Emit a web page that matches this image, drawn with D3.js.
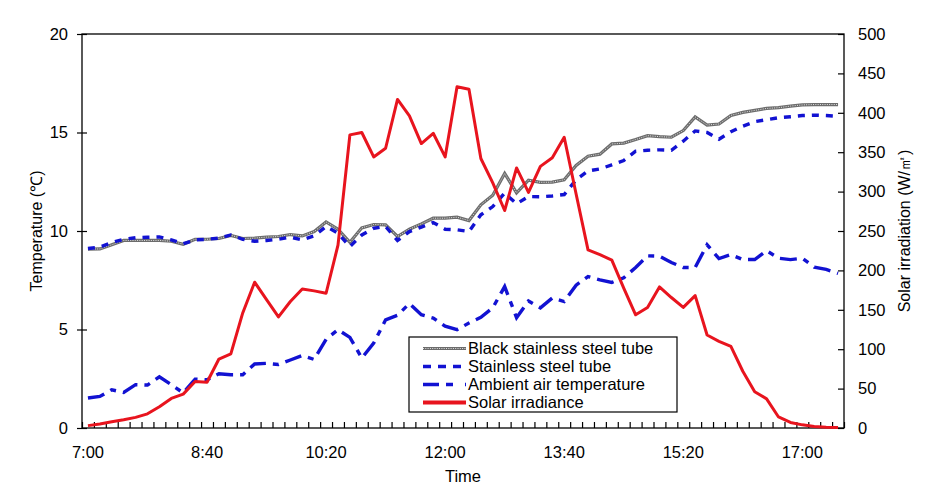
<!DOCTYPE html>
<html>
<head>
<meta charset="utf-8">
<script src="https://cdn.jsdelivr.net/npm/d3@7"></script>
<style>
  body { margin: 0; background: #fff; }
  text { font-family: "Liberation Sans", Arial, sans-serif; fill: #000; }
  .axis path { display: none; }
  .axis line { stroke: #000; stroke-width: 1.2; }
</style>
</head>
<body>
<script>
// Step 0: data (10 min steps, 7:00 to 17:30)
//= ================================
var times = ["7:00", "7:10", "7:20", "7:30", "7:40", "7:50", "8:00", "8:10", "8:20", "8:30",
  "8:40", "8:50", "9:00", "9:10", "9:20", "9:30", "9:40", "9:50", "10:00", "10:10",
  "10:20", "10:30", "10:40", "10:50", "11:00", "11:10", "11:20", "11:30", "11:40", "11:50",
  "12:00", "12:10", "12:20", "12:30", "12:40", "12:50", "13:00", "13:10", "13:20", "13:30",
  "13:40", "13:50", "14:00", "14:10", "14:20", "14:30", "14:40", "14:50", "15:00", "15:10",
  "15:20", "15:30", "15:40", "15:50", "16:00", "16:10", "16:20", "16:30", "16:40", "16:50",
  "17:00", "17:10", "17:20", "17:30"];

var timeLabels = ["7:00", "8:40", "10:20", "12:00", "13:40", "15:20", "17:00"];

var blackTube = [9.08, 9.09, 9.3, 9.52, 9.52, 9.52, 9.52, 9.48, 9.33, 9.58,
  9.58, 9.62, 9.78, 9.62, 9.64, 9.69, 9.72, 9.82, 9.75, 9.97,
  10.46, 10.09, 9.43, 10.16, 10.33, 10.31, 9.72, 10.09, 10.36, 10.65,
  10.65, 10.7, 10.53, 11.33, 11.82, 12.92, 11.94, 12.58, 12.47, 12.48,
  12.6, 13.33, 13.8, 13.9, 14.42, 14.46, 14.64, 14.84, 14.79, 14.76,
  15.1, 15.79, 15.38, 15.43, 15.87, 16.02, 16.12, 16.22, 16.26, 16.34,
  16.4, 16.42, 16.42, 16.42];

var stainlessTube = [9.11, 9.18, 9.41, 9.58, 9.66, 9.68, 9.7, 9.55, 9.35, 9.55,
  9.58, 9.64, 9.8, 9.58, 9.48, 9.52, 9.58, 9.69, 9.55, 9.75,
  10.23, 9.89, 9.21, 9.8, 10.14, 10.23, 9.52, 9.97, 10.2, 10.43,
  10.09, 10.06, 9.97, 10.82, 11.24, 11.92, 11.38, 11.75, 11.74, 11.78,
  11.85, 12.6, 13.05, 13.15, 13.36, 13.58, 14.05, 14.1, 14.12, 14.1,
  14.56, 15.08, 15.0, 14.66, 15.04, 15.32, 15.55, 15.65, 15.75, 15.8,
  15.86, 15.88, 15.86, 15.82];

var ambientAir = [1.52, 1.6, 1.94, 1.8, 2.2, 2.18, 2.6, 2.2, 1.78, 2.48,
  2.45, 2.75, 2.7, 2.7, 3.25, 3.28, 3.22, 3.45, 3.68, 3.48,
  4.5, 4.99, 4.6, 3.55, 4.31, 5.49, 5.72, 6.32, 5.75, 5.58,
  5.17, 4.99, 5.33, 5.62, 6.1, 7.18, 5.6, 6.45, 6.1, 6.6,
  6.42, 7.25, 7.69, 7.52, 7.39, 7.62, 8.15, 8.74, 8.72, 8.4,
  8.15, 8.15, 9.3, 8.6, 8.8, 8.55, 8.55, 9.0, 8.62, 8.55,
  8.62, 8.17, 8.05, 7.85];

var solarIrr = [3, 5, 8, 10.5, 13.5, 18, 27, 37.5, 43, 59,
  58, 87.5, 94, 146, 185, 163, 141, 160.5, 176.5, 174,
  171, 232, 372, 375, 344, 355, 417, 396, 361, 374,
  344, 433, 430, 342, 311, 276, 330, 299, 332, 343,
  369, 297, 226, 220, 213, 177.5, 143.7, 153, 179, 165.6,
  153, 168, 118, 110, 103.5, 72, 46, 37, 14, 7,
  4, 2, 1, 0.5];

var tempTicks = [0, 5, 10, 15, 20];
var irrTicks = [0, 50, 100, 150, 200, 250, 300, 350, 400, 450, 500];

var seriesNames = ["Black stainless steel tube", "Stainless steel tube",
  "Ambient air temperature", "Solar irradiance"];

// Step 1: chart parameters
//= ================================
var svgWidth = 951;
var svgHeight = 492;
var margin = {top: 34, right: 107, bottom: 64, left: 82};
var width = svgWidth - margin.left - margin.right;
var height = svgHeight - margin.top - margin.bottom;

var blue = "#1212d2";
var red = "#e8141e";
var gray = "#6c6c6c";

var svg = d3.select("body").append("svg")
  .attr("width", svgWidth)
  .attr("height", svgHeight);

var chartGroup = svg.append("g")
  .attr("transform", `translate(${margin.left}, ${margin.top})`);

// Step 2: scales
//= ================================
var xBand = d3.scaleBand().domain(times).range([0, width]);
var xEdge = d3.scaleLinear().domain([0, times.length]).range([0, width]);
var yTemp = d3.scaleLinear().domain([0, 20]).range([height, 0]);
var yIrr = d3.scaleLinear().domain([0, 500]).range([height, 0]);
var xMid = d => xBand(d) + xBand.bandwidth() / 2;

// Step 3: frame and axes
//= ================================
chartGroup.append("rect")
  .attr("width", width)
  .attr("height", height)
  .attr("fill", "none")
  .attr("stroke", "#000")
  .attr("stroke-width", 1.3);

// category boundary ticks, pointing inwards
chartGroup.append("g")
  .attr("class", "axis")
  .attr("transform", `translate(0, ${height})`)
  .call(d3.axisBottom(xEdge).tickValues(d3.range(times.length + 1)).tickSize(-6).tickFormat(""));

var xLabels = chartGroup.append("g")
  .attr("class", "axis")
  .attr("transform", `translate(0, ${height})`)
  .call(d3.axisBottom(xBand).tickValues(timeLabels).tickSize(0).tickPadding(18));
xLabels.selectAll("text").style("font-size", "16.5px");
xLabels.selectAll("line").remove();

var leftAxis = chartGroup.append("g")
  .attr("class", "axis")
  .call(d3.axisLeft(yTemp).tickValues(tempTicks).tickSize(5).tickPadding(9));
leftAxis.selectAll(".tick line").attr("x1", 5);
leftAxis.selectAll("text").style("font-size", "16.5px");

var rightAxis = chartGroup.append("g")
  .attr("class", "axis")
  .attr("transform", `translate(${width}, 0)`)
  .call(d3.axisRight(yIrr).tickValues(irrTicks).tickSize(-6).tickPadding(14));
rightAxis.selectAll("text").style("font-size", "16.5px");

// axis titles
svg.append("text")
  .attr("transform", "translate(42, 231) rotate(-90)")
  .attr("text-anchor", "middle")
  .style("font-size", "16px")
  .text("Temperature (℃)");

svg.append("text")
  .attr("transform", "translate(910, 231) rotate(-90)")
  .attr("text-anchor", "middle")
  .style("font-size", "16px")
  .text("Solar irradiation (W/㎡)");

svg.append("text")
  .attr("x", 463)
  .attr("y", 482)
  .attr("text-anchor", "middle")
  .style("font-size", "16.5px")
  .text("Time");

// Step 4: lines
//= ================================
var tempLine = d3.line()
  .x((d, i) => xMid(times[i]))
  .y(d => yTemp(d));

var irrLine = d3.line()
  .x((d, i) => xMid(times[i]))
  .y(d => yIrr(d));

// black tube: gray patterned line
chartGroup.append("path")
  .attr("d", tempLine(blackTube))
  .attr("fill", "none")
  .attr("stroke", gray)
  .attr("stroke-width", 3.2);
chartGroup.append("path")
  .attr("d", tempLine(blackTube))
  .attr("fill", "none")
  .attr("stroke", "#e4e4e4")
  .attr("stroke-width", 1)
  .attr("stroke-dasharray", "1,1.3");

chartGroup.append("path")
  .attr("d", tempLine(stainlessTube))
  .attr("fill", "none")
  .attr("stroke", blue)
  .attr("stroke-width", 3.4)
  .attr("stroke-dasharray", "7,7");

chartGroup.append("path")
  .attr("d", tempLine(ambientAir))
  .attr("fill", "none")
  .attr("stroke", blue)
  .attr("stroke-width", 3.4)
  .attr("stroke-dasharray", "17,7,6,7");

chartGroup.append("path")
  .attr("d", irrLine(solarIrr))
  .attr("fill", "none")
  .attr("stroke", red)
  .attr("stroke-width", 3)
  .attr("stroke-linejoin", "round");

// Step 5: legend
//= ================================
var legend = svg.append("g").attr("transform", "translate(409, 337)");

legend.append("rect")
  .attr("width", 268)
  .attr("height", 75)
  .attr("fill", "#fff")
  .attr("stroke", "#000")
  .attr("stroke-width", 1.2);

var styles = [
  {stroke: gray, width: 3.2, dash: null},
  {stroke: blue, width: 3.4, dash: "8,7"},
  {stroke: blue, width: 3.4, dash: "16,7,7,12"},
  {stroke: red, width: 4, dash: null}
];

seriesNames.forEach(function(name, i) {
  var y = 11.5 + i * 18;
  legend.append("line")
    .attr("x1", 14).attr("x2", 57)
    .attr("y1", y).attr("y2", y)
    .attr("stroke", styles[i].stroke)
    .attr("stroke-width", styles[i].width)
    .attr("stroke-dasharray", styles[i].dash);
  if (i === 0) {
    legend.append("line")
      .attr("x1", 14).attr("x2", 57)
      .attr("y1", y).attr("y2", y)
      .attr("stroke", "#e4e4e4")
      .attr("stroke-width", 1)
      .attr("stroke-dasharray", "1,1.3");
  }
  legend.append("text")
    .attr("x", 59)
    .attr("y", y)
    .attr("dy", "0.36em")
    .style("font-size", "16.5px")
    .text(name);
});
</script>
</body>
</html>
